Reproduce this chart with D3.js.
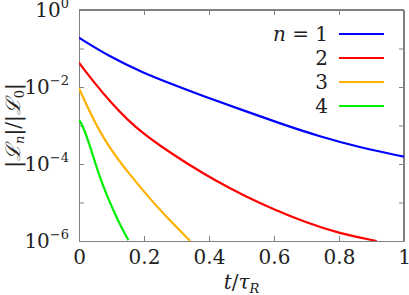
<!DOCTYPE html>
<html>
<head>
<meta charset="utf-8">
<script src="https://cdn.jsdelivr.net/npm/d3@7"></script>
<style>
  body { margin: 0; background: #fff; }
  #chart text { font-family: "DejaVu Serif", "Liberation Serif", serif; }
</style>
</head>
<body>
<svg id="chart" width="409" height="295"></svg>
<script>
// values (t / tau_R and |L_n|/|L_0|)
var t1 = [0, 0.093, 0.196, 0.3, 0.4, 0.51, 0.62, 0.74, 0.87, 1.0];
var v1 = [0.19, 0.062, 0.0236, 0.0107, 5.1e-3, 2.4e-3, 1.12e-3, 5.2e-4, 2.6e-4, 1.55e-4];

var t2 = [0, 0.05, 0.1, 0.15, 0.2, 0.25, 0.336, 0.42, 0.51, 0.6, 0.7, 0.8, 0.916];
var v2 = [0.0427, 0.0120, 3.8e-3, 1.38e-3, 6.0e-4, 2.95e-4, 9.8e-5, 3.7e-5, 1.48e-5, 6.6e-6, 3.0e-6, 1.58e-6, 1.0e-6];

var t3 = [0, 0.025, 0.05, 0.075, 0.1, 0.125, 0.15, 0.2, 0.26, 0.342];
var v3 = [9.3e-3, 3.16e-3, 1.17e-3, 4.9e-4, 2.3e-4, 1.17e-4, 6.3e-5, 1.9e-5, 5.0e-6, 1.0e-6];

var t4 = [0, 0.011, 0.032, 0.05, 0.07, 0.09, 0.11, 0.13, 0.152];
var v4 = [1.38e-3, 1.02e-3, 3.3e-4, 1.05e-4, 3.3e-5, 1.26e-5, 5.2e-6, 2.3e-6, 1.05e-6];

var seriesNames = ["1", "2", "3", "4"];
var colors = ["#0000ff", "#ff0000", "#ffb000", "#00ee00"];

var xTicks = [0, 0.2, 0.4, 0.6, 0.8, 1];
var xTickLabels = ["0", "0.2", "0.4", "0.6", "0.8", "1"];
var yTicks = [1, 1e-1, 1e-2, 1e-3, 1e-4, 1e-5, 1e-6];
var yLabelExp = [0, -2, -4, -6];

var margin = {left: 79, right: 5, top: 10, bottom: 54},
	W = 409, H = 295;

var x = d3.scaleLinear().domain([0, 1]).range([margin.left, W - margin.right]);
var y = d3.scaleLog().domain([1e-6, 1]).range([H - margin.bottom, margin.top]);

var svg = d3.select("#chart");

svg.append("clipPath").attr("id", "clip")
	.append("rect")
	.attr("x", x(0)).attr("y", y(1))
	.attr("width", x(1) - x(0)).attr("height", y(1e-6) - y(1));

// frame: top/right black, left/bottom gray
svg.append("line").attr("x1", x(0)).attr("x2", x(1)).attr("y1", y(1)).attr("y2", y(1)).attr("stroke", "#000");
svg.append("line").attr("x1", x(1)).attr("x2", x(1)).attr("y1", y(1)).attr("y2", y(1e-6)).attr("stroke", "#000");

var gx = svg.append("g").attr("transform", "translate(0," + y(1e-6) + ")")
	.call(d3.axisBottom(x).tickValues(xTicks).tickSize(-5).tickPadding(9).tickFormat((d, i) => xTickLabels[i]));
var gxt = svg.append("g").attr("transform", "translate(0," + y(1) + ")")
	.call(d3.axisTop(x).tickValues(xTicks).tickSize(-5).tickFormat(""));
var gy = svg.append("g").attr("transform", "translate(" + x(0) + ",0)")
	.call(d3.axisLeft(y).tickValues(yTicks).tickSize(-5).tickFormat(""));
var gyr = svg.append("g").attr("transform", "translate(" + x(1) + ",0)")
	.call(d3.axisRight(y).tickValues(yTicks).tickSize(-5).tickFormat(""));

[gx, gxt, gy, gyr].forEach(g => g.attr("font-family", null).attr("font-size", null));
[gx, gy].forEach(g => {
	g.select(".domain").attr("stroke", "#808080");
	g.selectAll(".tick line").attr("stroke", "#808080");
});
[gxt, gyr].forEach(g => {
	g.select(".domain").remove();
	g.selectAll(".tick line").attr("stroke", "#808080");
});
gx.selectAll(".tick text").attr("font-size", 20).attr("fill", "#222");

// y tick labels 10^k
var ylab = svg.append("g").selectAll("text").data(yLabelExp).enter().append("text")
	.attr("x", x(0) - 10)
	.attr("y", d => y(Math.pow(10, d)) + 7)
	.attr("text-anchor", "end")
	.attr("fill", "#222")
	.attr("font-size", 20);
ylab.append("tspan").text("10");
ylab.append("tspan").attr("dy", -9).attr("font-size", 13).text(d => d === 0 ? "0" : "\u2212" + (-d));

// curves
var line = d3.line().x(d => x(d[0])).y(d => y(d[1])).curve(d3.curveBasis);
var series = [[t1, v1], [t2, v2], [t3, v3], [t4, v4]];
svg.append("g").attr("clip-path", "url(#clip)")
	.selectAll("path").data(series).enter().append("path")
	.attr("d", s => line(s[0].map((t, i) => [t, s[1][i]])))
	.attr("fill", "none")
	.attr("stroke", (s, i) => colors[i])
	.attr("stroke-width", 2.2);

// legend
var leg = svg.append("g").selectAll("g").data(seriesNames).enter().append("g")
	.attr("transform", (d, i) => "translate(0," + (34 + i * 24) + ")");
leg.append("line").attr("x1", 339).attr("x2", 384).attr("y1", 0).attr("y2", 0)
	.attr("stroke", (d, i) => colors[i]).attr("stroke-width", 2.2);
var lt = leg.append("text").attr("x", 328).attr("y", 7).attr("text-anchor", "end")
	.attr("font-size", 20).attr("fill", "#222");
lt.filter((d, i) => i === 0).append("tspan").attr("font-style", "italic").text("n");
lt.filter((d, i) => i === 0).append("tspan").text(" = ");
lt.append("tspan").text(d => d);

// axis titles
svg.append("text")
	.attr("x", (x(0) + x(1)) / 2)
	.attr("y", 289)
	.attr("text-anchor", "middle")
	.attr("font-size", 20)
	.attr("fill", "#222")
	.call(t => {
		t.append("tspan").attr("font-style", "italic").text("t");
		t.append("tspan").text("/");
		t.append("tspan").attr("font-style", "italic").text("\u03c4");
		t.append("tspan").attr("font-style", "italic").attr("font-size", 13).attr("dy", 4).text("R");
	});

svg.append("text")
	.attr("transform", "translate(20," + ((y(1) + y(1e-6)) / 2) + ") rotate(-90)")
	.attr("text-anchor", "middle")
	.attr("font-size", 20)
	.attr("fill", "#222")
	.call(t => {
		t.append("tspan").text("|");
		t.append("tspan").attr("font-style", "italic").text("\u2112");
		t.append("tspan").attr("font-style", "italic").attr("font-size", 13).attr("dy", 4).text("n");
		t.append("tspan").attr("dy", -4).text("|/|");
		t.append("tspan").attr("font-style", "italic").text("\u2112");
		t.append("tspan").attr("font-size", 13).attr("dy", 4).text("0");
		t.append("tspan").attr("dy", -4).text("|");
	});
</script>
</body>
</html>
